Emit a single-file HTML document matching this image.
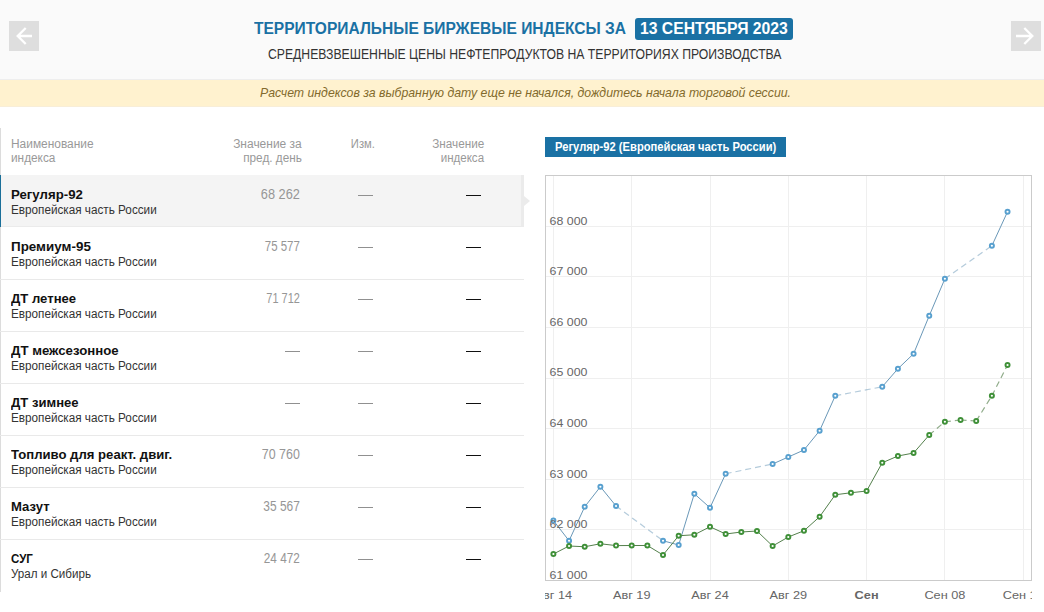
<!DOCTYPE html>
<html><head><meta charset="utf-8"><title>Территориальные биржевые индексы</title>
<style>
html,body{margin:0;padding:0;}
body{width:1044px;height:612px;position:relative;overflow:hidden;background:#fff;font-family:'Liberation Sans',sans-serif;}
.t{position:absolute;white-space:pre;font-family:'Liberation Sans',sans-serif;}
.d1{position:absolute;width:15.2px;height:1px;background:#909090;}
.d2{position:absolute;width:15.8px;height:1.7px;background:#111;}
svg text{font-family:'Liberation Sans',sans-serif;}
</style></head><body>
<div style="position:absolute;left:0;top:0;width:1044px;height:79px;background:#fafafa;border-bottom:1px solid #eeeeee"></div>
<div style="position:absolute;left:0;top:80px;width:1044px;height:26px;background:#fff2cf;border-bottom:1px solid #f8eed8"></div>
<div style="position:absolute;left:8.6px;top:20.6px;width:30.8px;height:30.4px;background:#dedede"></div>
<div style="position:absolute;left:1010.6px;top:20.6px;width:30.6px;height:30.4px;background:#dedede"></div>
<svg style="position:absolute;left:9px;top:21px" width="30" height="30" viewBox="9 21 30 30"><path d="M32 36H18.5M25.7 28L17.7 36L25.7 44" fill="none" stroke="#fff" stroke-width="2.3"/></svg>
<svg style="position:absolute;left:1011px;top:21px" width="30" height="30" viewBox="1011 21 30 30"><path d="M1016 36H1031.5M1024.3 28L1032.3 36L1024.3 44" fill="none" stroke="#fff" stroke-width="2.3"/></svg>
<div style="position:absolute;left:635px;top:18px;width:157.5px;height:22px;background:#1a71a4;border-radius:3px"></div>
<div style="position:absolute;left:0;top:128px;width:1px;height:464px;background:#dcdcdc"></div>
<div style="position:absolute;left:0;top:175px;width:524.4px;height:52.4px;background:#ebebeb"></div><div style="position:absolute;left:0;top:175px;width:521px;height:50.5px;background:#f4f4f4"></div>
<div style="position:absolute;left:0;top:279px;width:524px;height:1px;background:#e9e9e9"></div>
<div style="position:absolute;left:0;top:331px;width:524px;height:1px;background:#e9e9e9"></div>
<div style="position:absolute;left:0;top:383px;width:524px;height:1px;background:#e9e9e9"></div>
<div style="position:absolute;left:0;top:435px;width:524px;height:1px;background:#e9e9e9"></div>
<div style="position:absolute;left:0;top:487px;width:524px;height:1px;background:#e9e9e9"></div>
<div style="position:absolute;left:0;top:539px;width:524px;height:1px;background:#e9e9e9"></div>
<div style="position:absolute;left:0;top:175px;width:1px;height:52px;background:#1a6f99"></div>
<div style="position:absolute;left:524px;top:195.8px;width:0;height:0;border-top:5.5px solid transparent;border-bottom:5.5px solid transparent;border-left:6.5px solid #ebebeb"></div>
<div style="position:absolute;left:545px;top:137px;width:241px;height:20px;background:#1a71a4"></div>
<svg style="position:absolute;left:545px;top:170px;overflow:hidden" width="487" height="442" viewBox="545 170 487 442">
<rect x="545.5" y="175.5" width="486" height="405" fill="#fff" stroke="#cbcbcb" stroke-width="1"/>
<line x1="553.5" y1="176" x2="553.5" y2="580" stroke="#efefef" stroke-width="1"/>
<line x1="631.5" y1="176" x2="631.5" y2="580" stroke="#efefef" stroke-width="1"/>
<line x1="710.5" y1="176" x2="710.5" y2="580" stroke="#efefef" stroke-width="1"/>
<line x1="788.5" y1="176" x2="788.5" y2="580" stroke="#efefef" stroke-width="1"/>
<line x1="866.5" y1="176" x2="866.5" y2="580" stroke="#efefef" stroke-width="1"/>
<line x1="944.5" y1="176" x2="944.5" y2="580" stroke="#efefef" stroke-width="1"/>
<line x1="1023.5" y1="176" x2="1023.5" y2="580" stroke="#efefef" stroke-width="1"/>
<line x1="546" y1="529.5" x2="1031" y2="529.5" stroke="#efefef" stroke-width="1"/>
<line x1="546" y1="479.5" x2="1031" y2="479.5" stroke="#efefef" stroke-width="1"/>
<line x1="546" y1="428.5" x2="1031" y2="428.5" stroke="#efefef" stroke-width="1"/>
<line x1="546" y1="378.5" x2="1031" y2="378.5" stroke="#efefef" stroke-width="1"/>
<line x1="546" y1="327.5" x2="1031" y2="327.5" stroke="#efefef" stroke-width="1"/>
<line x1="546" y1="276.5" x2="1031" y2="276.5" stroke="#efefef" stroke-width="1"/>
<line x1="546" y1="226.5" x2="1031" y2="226.5" stroke="#efefef" stroke-width="1"/>
<line x1="553.4" y1="520.5" x2="569.06" y2="540.75" stroke="#6a98b8" stroke-width="1"/>
<line x1="569.06" y1="540.75" x2="584.72" y2="506.75" stroke="#6a98b8" stroke-width="1"/>
<line x1="584.72" y1="506.75" x2="600.38" y2="486.75" stroke="#6a98b8" stroke-width="1"/>
<line x1="600.38" y1="486.75" x2="616.04" y2="506" stroke="#6a98b8" stroke-width="1"/>
<line x1="616.04" y1="506" x2="663.02" y2="540.75" stroke="#6a98b8" stroke-opacity="0.5" stroke-width="1.2" stroke-dasharray="6,4"/>
<line x1="663.02" y1="540.75" x2="678.68" y2="545" stroke="#6a98b8" stroke-width="1"/>
<line x1="678.68" y1="545" x2="694.34" y2="493.75" stroke="#6a98b8" stroke-width="1"/>
<line x1="694.34" y1="493.75" x2="710.0" y2="507.75" stroke="#6a98b8" stroke-width="1"/>
<line x1="710.0" y1="507.75" x2="725.66" y2="473.75" stroke="#6a98b8" stroke-width="1"/>
<line x1="725.66" y1="473.75" x2="772.64" y2="464" stroke="#6a98b8" stroke-opacity="0.5" stroke-width="1.2" stroke-dasharray="6,4"/>
<line x1="772.64" y1="464" x2="788.3" y2="457" stroke="#6a98b8" stroke-width="1"/>
<line x1="788.3" y1="457" x2="803.96" y2="450" stroke="#6a98b8" stroke-width="1"/>
<line x1="803.96" y1="450" x2="819.62" y2="430.75" stroke="#6a98b8" stroke-width="1"/>
<line x1="819.62" y1="430.75" x2="835.28" y2="395.75" stroke="#6a98b8" stroke-width="1"/>
<line x1="835.28" y1="395.75" x2="882.26" y2="386.75" stroke="#6a98b8" stroke-opacity="0.5" stroke-width="1.2" stroke-dasharray="6,4"/>
<line x1="882.26" y1="386.75" x2="897.92" y2="368.75" stroke="#6a98b8" stroke-width="1"/>
<line x1="897.92" y1="368.75" x2="913.58" y2="353.75" stroke="#6a98b8" stroke-width="1"/>
<line x1="913.58" y1="353.75" x2="929.24" y2="315.75" stroke="#6a98b8" stroke-width="1"/>
<line x1="929.24" y1="315.75" x2="944.9" y2="278.75" stroke="#6a98b8" stroke-width="1"/>
<line x1="944.9" y1="278.75" x2="991.88" y2="245.75" stroke="#6a98b8" stroke-opacity="0.5" stroke-width="1.2" stroke-dasharray="6,4"/>
<line x1="991.88" y1="245.75" x2="1007.54" y2="211.75" stroke="#6a98b8" stroke-width="1"/>
<circle cx="553.4" cy="520.5" r="2.05" fill="#fff" stroke="#58a0cf" stroke-width="1.9"/>
<circle cx="569.06" cy="540.75" r="2.05" fill="#fff" stroke="#58a0cf" stroke-width="1.9"/>
<circle cx="584.72" cy="506.75" r="2.05" fill="#fff" stroke="#58a0cf" stroke-width="1.9"/>
<circle cx="600.38" cy="486.75" r="2.05" fill="#fff" stroke="#58a0cf" stroke-width="1.9"/>
<circle cx="616.04" cy="506" r="2.05" fill="#fff" stroke="#58a0cf" stroke-width="1.9"/>
<circle cx="663.02" cy="540.75" r="2.05" fill="#fff" stroke="#58a0cf" stroke-width="1.9"/>
<circle cx="678.68" cy="545" r="2.05" fill="#fff" stroke="#58a0cf" stroke-width="1.9"/>
<circle cx="694.34" cy="493.75" r="2.05" fill="#fff" stroke="#58a0cf" stroke-width="1.9"/>
<circle cx="710.0" cy="507.75" r="2.05" fill="#fff" stroke="#58a0cf" stroke-width="1.9"/>
<circle cx="725.66" cy="473.75" r="2.05" fill="#fff" stroke="#58a0cf" stroke-width="1.9"/>
<circle cx="772.64" cy="464" r="2.05" fill="#fff" stroke="#58a0cf" stroke-width="1.9"/>
<circle cx="788.3" cy="457" r="2.05" fill="#fff" stroke="#58a0cf" stroke-width="1.9"/>
<circle cx="803.96" cy="450" r="2.05" fill="#fff" stroke="#58a0cf" stroke-width="1.9"/>
<circle cx="819.62" cy="430.75" r="2.05" fill="#fff" stroke="#58a0cf" stroke-width="1.9"/>
<circle cx="835.28" cy="395.75" r="2.05" fill="#fff" stroke="#58a0cf" stroke-width="1.9"/>
<circle cx="882.26" cy="386.75" r="2.05" fill="#fff" stroke="#58a0cf" stroke-width="1.9"/>
<circle cx="897.92" cy="368.75" r="2.05" fill="#fff" stroke="#58a0cf" stroke-width="1.9"/>
<circle cx="913.58" cy="353.75" r="2.05" fill="#fff" stroke="#58a0cf" stroke-width="1.9"/>
<circle cx="929.24" cy="315.75" r="2.05" fill="#fff" stroke="#58a0cf" stroke-width="1.9"/>
<circle cx="944.9" cy="278.75" r="2.05" fill="#fff" stroke="#58a0cf" stroke-width="1.9"/>
<circle cx="991.88" cy="245.75" r="2.05" fill="#fff" stroke="#58a0cf" stroke-width="1.9"/>
<circle cx="1007.54" cy="211.75" r="2.05" fill="#fff" stroke="#58a0cf" stroke-width="1.9"/>
<line x1="553.4" y1="554" x2="569.06" y2="546" stroke="#54804c" stroke-width="1"/>
<line x1="569.06" y1="546" x2="584.72" y2="546.75" stroke="#54804c" stroke-width="1"/>
<line x1="584.72" y1="546.75" x2="600.38" y2="543.75" stroke="#54804c" stroke-width="1"/>
<line x1="600.38" y1="543.75" x2="616.04" y2="545.6" stroke="#54804c" stroke-width="1"/>
<line x1="616.04" y1="545.6" x2="631.7" y2="545.5" stroke="#54804c" stroke-width="1"/>
<line x1="631.7" y1="545.5" x2="647.36" y2="545.5" stroke="#54804c" stroke-width="1"/>
<line x1="647.36" y1="545.5" x2="663.02" y2="555" stroke="#54804c" stroke-width="1"/>
<line x1="663.02" y1="555" x2="678.68" y2="535.75" stroke="#54804c" stroke-width="1"/>
<line x1="678.68" y1="535.75" x2="694.34" y2="534.75" stroke="#54804c" stroke-width="1"/>
<line x1="694.34" y1="534.75" x2="710.0" y2="526.75" stroke="#54804c" stroke-width="1"/>
<line x1="710.0" y1="526.75" x2="725.66" y2="534" stroke="#54804c" stroke-width="1"/>
<line x1="725.66" y1="534" x2="741.32" y2="532" stroke="#54804c" stroke-width="1"/>
<line x1="741.32" y1="532" x2="756.98" y2="531" stroke="#54804c" stroke-width="1"/>
<line x1="756.98" y1="531" x2="772.64" y2="546" stroke="#54804c" stroke-width="1"/>
<line x1="772.64" y1="546" x2="788.3" y2="537" stroke="#54804c" stroke-width="1"/>
<line x1="788.3" y1="537" x2="803.96" y2="530.75" stroke="#54804c" stroke-width="1"/>
<line x1="803.96" y1="530.75" x2="819.62" y2="516.75" stroke="#54804c" stroke-width="1"/>
<line x1="819.62" y1="516.75" x2="835.28" y2="494.75" stroke="#54804c" stroke-width="1"/>
<line x1="835.28" y1="494.75" x2="850.94" y2="492.75" stroke="#54804c" stroke-width="1"/>
<line x1="850.94" y1="492.75" x2="866.6" y2="491" stroke="#54804c" stroke-width="1"/>
<line x1="866.6" y1="491" x2="882.26" y2="462.75" stroke="#54804c" stroke-width="1"/>
<line x1="882.26" y1="462.75" x2="897.92" y2="456" stroke="#54804c" stroke-width="1"/>
<line x1="897.92" y1="456" x2="913.58" y2="453" stroke="#54804c" stroke-width="1"/>
<line x1="913.58" y1="453" x2="929.24" y2="435" stroke="#54804c" stroke-width="1"/>
<line x1="929.24" y1="435" x2="944.9" y2="421.75" stroke="#54804c" stroke-opacity="0.65" stroke-width="1.2" stroke-dasharray="6,4"/>
<line x1="944.9" y1="421.75" x2="960.56" y2="420" stroke="#54804c" stroke-opacity="0.65" stroke-width="1.2" stroke-dasharray="6,4"/>
<line x1="960.56" y1="420" x2="976.22" y2="421" stroke="#54804c" stroke-opacity="0.65" stroke-width="1.2" stroke-dasharray="6,4"/>
<line x1="976.22" y1="421" x2="991.88" y2="395.75" stroke="#54804c" stroke-opacity="0.65" stroke-width="1.2" stroke-dasharray="6,4"/>
<line x1="991.88" y1="395.75" x2="1007.54" y2="365" stroke="#54804c" stroke-opacity="0.65" stroke-width="1.2" stroke-dasharray="6,4"/>
<circle cx="553.4" cy="554" r="2.05" fill="#fff" stroke="#3f9038" stroke-width="1.9"/>
<circle cx="569.06" cy="546" r="2.05" fill="#fff" stroke="#3f9038" stroke-width="1.9"/>
<circle cx="584.72" cy="546.75" r="2.05" fill="#fff" stroke="#3f9038" stroke-width="1.9"/>
<circle cx="600.38" cy="543.75" r="2.05" fill="#fff" stroke="#3f9038" stroke-width="1.9"/>
<circle cx="616.04" cy="545.6" r="2.05" fill="#fff" stroke="#3f9038" stroke-width="1.9"/>
<circle cx="631.7" cy="545.5" r="2.05" fill="#fff" stroke="#3f9038" stroke-width="1.9"/>
<circle cx="647.36" cy="545.5" r="2.05" fill="#fff" stroke="#3f9038" stroke-width="1.9"/>
<circle cx="663.02" cy="555" r="2.05" fill="#fff" stroke="#3f9038" stroke-width="1.9"/>
<circle cx="678.68" cy="535.75" r="2.05" fill="#fff" stroke="#3f9038" stroke-width="1.9"/>
<circle cx="694.34" cy="534.75" r="2.05" fill="#fff" stroke="#3f9038" stroke-width="1.9"/>
<circle cx="710.0" cy="526.75" r="2.05" fill="#fff" stroke="#3f9038" stroke-width="1.9"/>
<circle cx="725.66" cy="534" r="2.05" fill="#fff" stroke="#3f9038" stroke-width="1.9"/>
<circle cx="741.32" cy="532" r="2.05" fill="#fff" stroke="#3f9038" stroke-width="1.9"/>
<circle cx="756.98" cy="531" r="2.05" fill="#fff" stroke="#3f9038" stroke-width="1.9"/>
<circle cx="772.64" cy="546" r="2.05" fill="#fff" stroke="#3f9038" stroke-width="1.9"/>
<circle cx="788.3" cy="537" r="2.05" fill="#fff" stroke="#3f9038" stroke-width="1.9"/>
<circle cx="803.96" cy="530.75" r="2.05" fill="#fff" stroke="#3f9038" stroke-width="1.9"/>
<circle cx="819.62" cy="516.75" r="2.05" fill="#fff" stroke="#3f9038" stroke-width="1.9"/>
<circle cx="835.28" cy="494.75" r="2.05" fill="#fff" stroke="#3f9038" stroke-width="1.9"/>
<circle cx="850.94" cy="492.75" r="2.05" fill="#fff" stroke="#3f9038" stroke-width="1.9"/>
<circle cx="866.6" cy="491" r="2.05" fill="#fff" stroke="#3f9038" stroke-width="1.9"/>
<circle cx="882.26" cy="462.75" r="2.05" fill="#fff" stroke="#3f9038" stroke-width="1.9"/>
<circle cx="897.92" cy="456" r="2.05" fill="#fff" stroke="#3f9038" stroke-width="1.9"/>
<circle cx="913.58" cy="453" r="2.05" fill="#fff" stroke="#3f9038" stroke-width="1.9"/>
<circle cx="929.24" cy="435" r="2.05" fill="#fff" stroke="#3f9038" stroke-width="1.9"/>
<circle cx="944.9" cy="421.75" r="2.05" fill="#fff" stroke="#3f9038" stroke-width="1.9"/>
<circle cx="960.56" cy="420" r="2.05" fill="#fff" stroke="#3f9038" stroke-width="1.9"/>
<circle cx="976.22" cy="421" r="2.05" fill="#fff" stroke="#3f9038" stroke-width="1.9"/>
<circle cx="991.88" cy="395.75" r="2.05" fill="#fff" stroke="#3f9038" stroke-width="1.9"/>
<circle cx="1007.54" cy="365" r="2.05" fill="#fff" stroke="#3f9038" stroke-width="1.9"/>
<text x="549.6" y="579.0" font-size="11.1" fill="#666" textLength="37.8" lengthAdjust="spacingAndGlyphs">61 000</text>
<text x="549.6" y="528.0" font-size="11.1" fill="#666" textLength="37.8" lengthAdjust="spacingAndGlyphs">62 000</text>
<text x="549.6" y="478.0" font-size="11.1" fill="#666" textLength="37.8" lengthAdjust="spacingAndGlyphs">63 000</text>
<text x="549.6" y="427.0" font-size="11.1" fill="#666" textLength="37.8" lengthAdjust="spacingAndGlyphs">64 000</text>
<text x="549.6" y="376.0" font-size="11.1" fill="#666" textLength="37.8" lengthAdjust="spacingAndGlyphs">65 000</text>
<text x="549.6" y="326.0" font-size="11.1" fill="#666" textLength="37.8" lengthAdjust="spacingAndGlyphs">66 000</text>
<text x="549.6" y="275.0" font-size="11.1" fill="#666" textLength="37.8" lengthAdjust="spacingAndGlyphs">67 000</text>
<text x="549.6" y="225.0" font-size="11.1" fill="#666" textLength="37.8" lengthAdjust="spacingAndGlyphs">68 000</text>
<text x="534.6" y="599" font-size="11.1" fill="#666" textLength="37.6" lengthAdjust="spacingAndGlyphs">Авг 14</text>
<text x="612.9" y="599" font-size="11.1" fill="#666" textLength="37.6" lengthAdjust="spacingAndGlyphs">Авг 19</text>
<text x="691.2" y="599" font-size="11.1" fill="#666" textLength="37.6" lengthAdjust="spacingAndGlyphs">Авг 24</text>
<text x="769.5" y="599" font-size="11.1" fill="#666" textLength="37.6" lengthAdjust="spacingAndGlyphs">Авг 29</text>
<text x="854.6" y="599" font-size="11.1" fill="#666" font-weight="bold" textLength="24" lengthAdjust="spacingAndGlyphs">Сен</text>
<text x="924.4" y="599" font-size="11.1" fill="#666" textLength="41" lengthAdjust="spacingAndGlyphs">Сен 08</text>
<text x="1002.7" y="599" font-size="11.1" fill="#666" textLength="41" lengthAdjust="spacingAndGlyphs">Сен 13</text>
</svg>
<div class="d1" style="left:357.6px;top:194.75px"></div>
<div class="d2" style="left:465.6px;top:194.5px"></div>
<div class="d1" style="left:357.6px;top:246.75px"></div>
<div class="d2" style="left:465.6px;top:246.5px"></div>
<div class="d1" style="left:357.6px;top:298.75px"></div>
<div class="d2" style="left:465.6px;top:298.5px"></div>
<div class="d1" style="left:285.2px;top:350.75px"></div>
<div class="d1" style="left:357.6px;top:350.75px"></div>
<div class="d2" style="left:465.6px;top:350.5px"></div>
<div class="d1" style="left:285.2px;top:402.75px"></div>
<div class="d1" style="left:357.6px;top:402.75px"></div>
<div class="d2" style="left:465.6px;top:402.5px"></div>
<div class="d1" style="left:357.6px;top:454.75px"></div>
<div class="d2" style="left:465.6px;top:454.5px"></div>
<div class="d1" style="left:357.6px;top:506.75px"></div>
<div class="d2" style="left:465.6px;top:506.5px"></div>
<div class="d1" style="left:357.6px;top:558.75px"></div>
<div class="d2" style="left:465.6px;top:558.5px"></div>
<div class="t" style="left:254.20px;top:18px;font-size:17.2px;line-height:20px;font-weight:bold;font-style:normal;color:#1a71a4;transform:scaleX(0.9043);transform-origin:0 0;">ТЕРРИТОРИАЛЬНЫЕ БИРЖЕВЫЕ ИНДЕКСЫ ЗА</div>
<div class="t" style="left:639.70px;top:18px;font-size:17.2px;line-height:20px;font-weight:bold;font-style:normal;color:#fff;transform:scaleX(0.9148);transform-origin:0 0;">13 СЕНТЯБРЯ 2023</div>
<div class="t" style="left:268.00px;top:46px;font-size:14px;line-height:16px;font-weight:normal;font-style:normal;color:#333;transform:scaleX(0.8721);transform-origin:0 0;">СРЕДНЕВЗВЕШЕННЫЕ ЦЕНЫ НЕФТЕПРОДУКТОВ НА ТЕРРИТОРИЯХ ПРОИЗВОДСТВА</div>
<div class="t" style="left:259.70px;top:85px;font-size:12.8px;line-height:15px;font-weight:normal;font-style:italic;color:#826a2c;transform:scaleX(0.9608);transform-origin:0 0;">Расчет индексов за выбранную дату еще не начался, дождитесь начала торговой сессии.</div>
<div class="t" style="left:10.60px;top:137px;font-size:12px;line-height:14px;font-weight:normal;font-style:normal;color:#999;transform:scaleX(0.9929);transform-origin:0 0;">Наименование</div>
<div class="t" style="left:10.60px;top:151px;font-size:12px;line-height:14px;font-weight:normal;font-style:normal;color:#999;transform:scaleX(0.9850);transform-origin:0 0;">индекса</div>
<div class="t" style="left:233.07px;top:137px;font-size:12px;line-height:14px;font-weight:normal;font-style:normal;color:#999;transform:scaleX(0.9980);transform-origin:100% 0;">Значение за</div>
<div class="t" style="left:241.99px;top:151px;font-size:12px;line-height:14px;font-weight:normal;font-style:normal;color:#999;transform:scaleX(0.9797);transform-origin:100% 0;">пред. день</div>
<div class="t" style="left:350.14px;top:137px;font-size:12px;line-height:14px;font-weight:normal;font-style:normal;color:#999;transform:scaleX(0.9332);transform-origin:50% 0;">Изм.</div>
<div class="t" style="left:430.78px;top:137px;font-size:12px;line-height:14px;font-weight:normal;font-style:normal;color:#999;transform:scaleX(0.9771);transform-origin:100% 0;">Значение</div>
<div class="t" style="left:438.92px;top:151px;font-size:12px;line-height:14px;font-weight:normal;font-style:normal;color:#999;transform:scaleX(0.9628);transform-origin:100% 0;">индекса</div>
<div class="t" style="left:10.70px;top:187px;font-size:13px;line-height:15px;font-weight:bold;font-style:normal;color:#111;transform:scaleX(1.0173);transform-origin:0 0;">Регуляр-92</div>
<div class="t" style="left:10.60px;top:203px;font-size:12px;line-height:14px;font-weight:normal;font-style:normal;color:#333;transform:scaleX(0.9766);transform-origin:0 0;">Европейская часть России</div>
<div class="t" style="left:256.57px;top:186px;font-size:14px;line-height:16px;font-weight:normal;font-style:normal;color:#969696;transform:scaleX(0.9106);transform-origin:100% 0;">68 262</div>
<div class="t" style="left:10.70px;top:239px;font-size:13px;line-height:15px;font-weight:bold;font-style:normal;color:#111;transform:scaleX(1.0314);transform-origin:0 0;">Премиум-95</div>
<div class="t" style="left:10.60px;top:255px;font-size:12px;line-height:14px;font-weight:normal;font-style:normal;color:#333;transform:scaleX(0.9766);transform-origin:0 0;">Европейская часть России</div>
<div class="t" style="left:256.57px;top:238px;font-size:14px;line-height:16px;font-weight:normal;font-style:normal;color:#969696;transform:scaleX(0.8172);transform-origin:100% 0;">75 577</div>
<div class="t" style="left:10.70px;top:291px;font-size:13px;line-height:15px;font-weight:bold;font-style:normal;color:#111;transform:scaleX(1.0071);transform-origin:0 0;">ДТ летнее</div>
<div class="t" style="left:10.60px;top:307px;font-size:12px;line-height:14px;font-weight:normal;font-style:normal;color:#333;transform:scaleX(0.9766);transform-origin:0 0;">Европейская часть России</div>
<div class="t" style="left:256.57px;top:290px;font-size:14px;line-height:16px;font-weight:normal;font-style:normal;color:#969696;transform:scaleX(0.7822);transform-origin:100% 0;">71 712</div>
<div class="t" style="left:10.70px;top:343px;font-size:13px;line-height:15px;font-weight:bold;font-style:normal;color:#111;transform:scaleX(1.0155);transform-origin:0 0;">ДТ межсезонное</div>
<div class="t" style="left:10.60px;top:359px;font-size:12px;line-height:14px;font-weight:normal;font-style:normal;color:#333;transform:scaleX(0.9766);transform-origin:0 0;">Европейская часть России</div>
<div class="t" style="left:10.70px;top:395px;font-size:13px;line-height:15px;font-weight:bold;font-style:normal;color:#111;transform:scaleX(1.0059);transform-origin:0 0;">ДТ зимнее</div>
<div class="t" style="left:10.60px;top:411px;font-size:12px;line-height:14px;font-weight:normal;font-style:normal;color:#333;transform:scaleX(0.9766);transform-origin:0 0;">Европейская часть России</div>
<div class="t" style="left:10.70px;top:447px;font-size:13px;line-height:15px;font-weight:bold;font-style:normal;color:#111;transform:scaleX(1.0096);transform-origin:0 0;">Топливо для реакт. двиг.</div>
<div class="t" style="left:10.60px;top:463px;font-size:12px;line-height:14px;font-weight:normal;font-style:normal;color:#333;transform:scaleX(0.9766);transform-origin:0 0;">Европейская часть России</div>
<div class="t" style="left:256.57px;top:446px;font-size:14px;line-height:16px;font-weight:normal;font-style:normal;color:#969696;transform:scaleX(0.8873);transform-origin:100% 0;">70 760</div>
<div class="t" style="left:10.70px;top:499px;font-size:13px;line-height:15px;font-weight:bold;font-style:normal;color:#111;transform:scaleX(1.0083);transform-origin:0 0;">Мазут</div>
<div class="t" style="left:10.60px;top:515px;font-size:12px;line-height:14px;font-weight:normal;font-style:normal;color:#333;transform:scaleX(0.9766);transform-origin:0 0;">Европейская часть России</div>
<div class="t" style="left:256.57px;top:498px;font-size:14px;line-height:16px;font-weight:normal;font-style:normal;color:#969696;transform:scaleX(0.8522);transform-origin:100% 0;">35 567</div>
<div class="t" style="left:10.70px;top:551px;font-size:13px;line-height:15px;font-weight:bold;font-style:normal;color:#111;transform:scaleX(0.8851);transform-origin:0 0;">СУГ</div>
<div class="t" style="left:10.60px;top:567px;font-size:12px;line-height:14px;font-weight:normal;font-style:normal;color:#333;transform:scaleX(0.9669);transform-origin:0 0;">Урал и Сибирь</div>
<div class="t" style="left:256.57px;top:550px;font-size:14px;line-height:16px;font-weight:normal;font-style:normal;color:#969696;transform:scaleX(0.8406);transform-origin:100% 0;">24 472</div>
<div class="t" style="left:555.00px;top:139px;font-size:12.9px;line-height:15px;font-weight:bold;font-style:normal;color:#fff;transform:scaleX(0.8676);transform-origin:0 0;">Регуляр-92 (Европейская часть России)</div>
</body></html>
